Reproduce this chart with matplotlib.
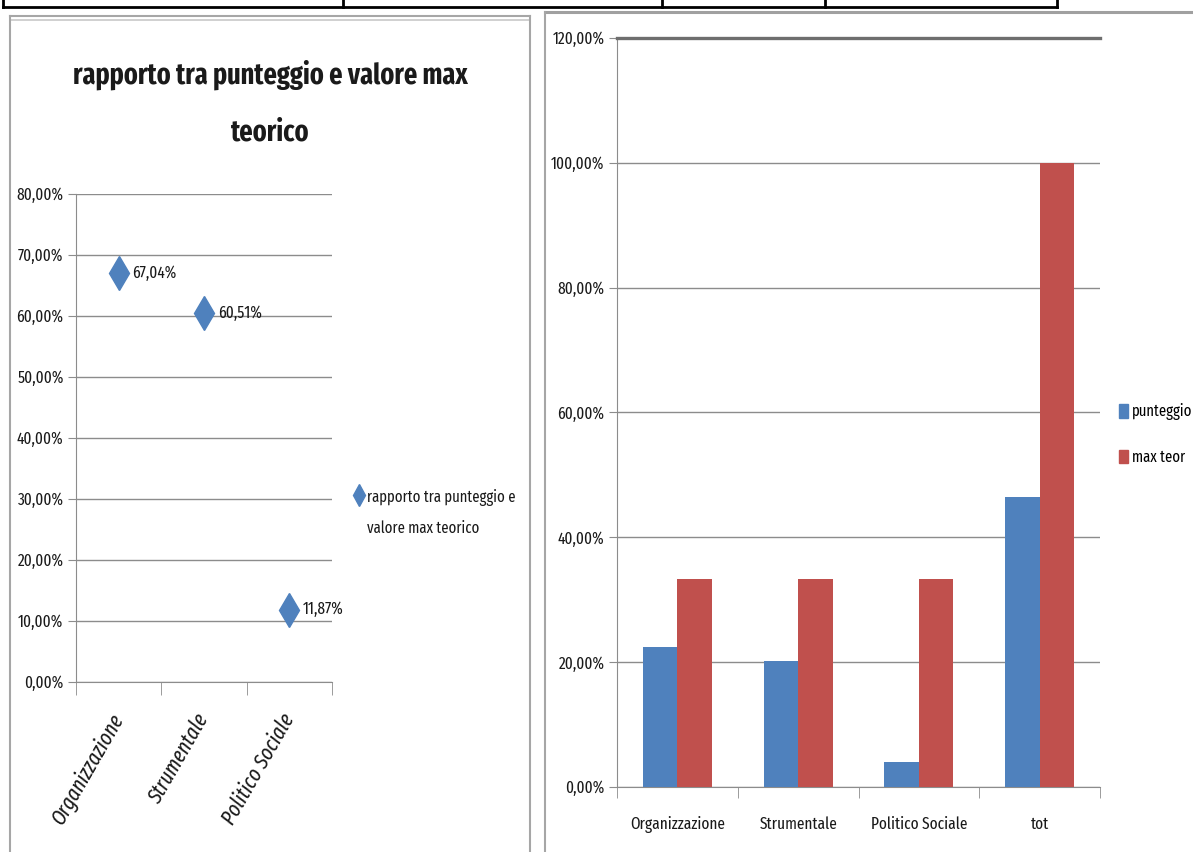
import matplotlib
matplotlib.use("Agg")
import matplotlib.pyplot as plt
from matplotlib import font_manager
from matplotlib.lines import Line2D
from matplotlib.patches import Patch
from matplotlib.ticker import FuncFormatter, FixedLocator

# ---- data ----
ratio_categories = ["Organizzazione", "Strumentale", "Politico Sociale"]
ratio_values = [0.6704, 0.6051, 0.1187]
ratio_label = "rapporto tra punteggio e valore max teorico"

bar_categories = ["Organizzazione", "Strumentale", "Politico Sociale", "tot"]
punteggio = [0.2235, 0.2017, 0.0396, 0.4647]
max_teor = [0.3333, 0.3333, 0.3333, 1.0]
series_names = ["punteggio", "max teor"]

left_yticks = [0.0, 0.1, 0.2, 0.3, 0.4, 0.5, 0.6, 0.7, 0.8]
right_yticks = [0.0, 0.2, 0.4, 0.6, 0.8, 1.0, 1.2]

# ---- style ----
names = {f.name for f in font_manager.fontManager.ttflist}
FONT = "Liberation Sans"
for cand in ["Fira Sans Extra Condensed", "Barlow Condensed", "Archivo Narrow"]:
    if cand in names:
        FONT = cand
        break
plt.rcParams["font.family"] = [FONT, "DejaVu Sans"]

BLUE = "#4F81BD"
RED = "#C0504D"
GRID = "#8c8c8c"
TXT = "#1a1a1a"
FS = 12

W, H = 1193, 852
fig = plt.figure(figsize=(W / 100, H / 100), dpi=100)


def box(x0, y0, x1, y1):
    return [x0 / W, 1 - y1 / H, (x1 - x0) / W, (y1 - y0) / H]


def pct(v, _pos=None):
    return f"{v * 100:.2f}%".replace(".", ",")


# background layer in pixel coordinates for frames and table rules
bg = fig.add_axes([0, 0, 1, 1])
bg.set_xlim(0, W)
bg.set_ylim(H, 0)
bg.axis("off")
bg.plot([3, 1057], [7, 7], color="black", lw=2)
for xv in [3, 343, 662, 825, 1057]:
    bg.plot([xv, xv], [0, 7], color="black", lw=2)
bg.plot([10, 530], [16, 16], color="#a6a6a6", lw=1.5)
bg.plot([10, 530], [20, 20], color="#c8c8c8", lw=1.2)
bg.plot([10, 10], [16, H], color="#a6a6a6", lw=1.5)
bg.plot([530, 530], [16, H], color="#a6a6a6", lw=1.5)
bg.plot([545, W], [12, 12], color="#a0a0a0", lw=2.2)
bg.plot([545, 545], [12, H], color="#a6a6a6", lw=1.5)

# ---- left chart: ratio scatter ----
ax1 = fig.add_axes(box(76, 194, 332, 682))
x_pos = [i + 0.5 for i in range(len(ratio_categories))]
ax1.plot(x_pos, ratio_values, linestyle="none", marker="d", markersize=17,
         color=BLUE, markeredgecolor=BLUE, zorder=3, clip_on=False)
for xp, v in zip(x_pos, ratio_values):
    ax1.annotate(pct(v), (xp, v), xytext=(10, 0), textcoords="offset points",
                 va="center", ha="left", fontsize=FS, color=TXT)
ax1.set_xlim(0, len(ratio_categories))
ax1.set_ylim(0, 0.8)
ax1.set_yticks(left_yticks)
ax1.yaxis.set_major_formatter(FuncFormatter(pct))
ax1.set_xticks(x_pos)
ax1.set_xticklabels(ratio_categories, rotation=60, ha="right", va="center",
                    rotation_mode="anchor", style="italic", fontsize=15.5, color=TXT)
ax1.xaxis.set_minor_locator(FixedLocator(range(len(ratio_categories) + 1)))
ax1.tick_params(axis="x", which="major", length=0, pad=24)
ax1.tick_params(axis="x", which="minor", length=9, color=GRID, direction="out")
ax1.tick_params(axis="y", length=6, color=GRID, labelsize=FS, labelcolor=TXT, pad=3)
ax1.grid(axis="y", color=GRID, lw=1)
ax1.set_axisbelow(True)
for s in ["top", "right"]:
    ax1.spines[s].set_visible(False)
for s in ["left", "bottom"]:
    ax1.spines[s].set_color(GRID)

fig.text(270 / W, 1 - 75 / H, "rapporto tra punteggio e valore max",
         ha="center", va="center", fontsize=20.5, fontweight="bold", color=TXT)
fig.text(270 / W, 1 - 133 / H, "teorico",
         ha="center", va="center", fontsize=20.5, fontweight="bold", color=TXT)

# legend of the left chart
fig.add_artist(Line2D([359 / W], [1 - 495 / H], marker="d", markersize=11,
                      color=BLUE, linestyle="none"))
words = ratio_label.split(" ")
fig.text(367 / W, 1 - 497 / H, " ".join(words[:4]), ha="left", va="center",
         fontsize=11.5, color=TXT)
fig.text(367 / W, 1 - 528 / H, " ".join(words[4:]), ha="left", va="center",
         fontsize=11.5, color=TXT)

# ---- right chart: grouped bars ----
ax2 = fig.add_axes(box(617, 38, 1100, 787))
n = len(bar_categories)
bw = 0.285
centers = [i + 0.5 for i in range(n)]
ax2.bar([c - bw / 2 for c in centers], punteggio, width=bw, color=BLUE, zorder=3)
ax2.bar([c + bw / 2 for c in centers], max_teor, width=bw, color=RED, zorder=3)
ax2.set_xlim(0, n)
ax2.set_ylim(0, 1.2)
ax2.set_yticks(right_yticks)
ax2.yaxis.set_major_formatter(FuncFormatter(pct))
ax2.set_xticks(centers)
ax2.set_xticklabels(bar_categories, fontsize=FS, color=TXT)
ax2.xaxis.set_minor_locator(FixedLocator(range(n + 1)))
ax2.tick_params(axis="x", which="major", length=0, pad=21)
ax2.tick_params(axis="x", which="minor", length=8, color=GRID, direction="out")
ax2.tick_params(axis="y", length=6, color=GRID, labelsize=FS, labelcolor=TXT, pad=3)
ax2.grid(axis="y", color=GRID, lw=1)
ax2.set_axisbelow(True)
ax2.spines["right"].set_visible(False)
ax2.spines["top"].set_color("#6e6e6e")
ax2.spines["top"].set_linewidth(2.4)
for s in ["left", "bottom"]:
    ax2.spines[s].set_color(GRID)

handles = [Patch(color=BLUE), Patch(color=RED)]
fig.legend(handles, series_names, loc="upper left",
           bbox_to_anchor=(1113 / W, 1 - 397 / H), frameon=False,
           handlelength=0.55, handleheight=0.9, handletextpad=0.25,
           labelspacing=1.8, fontsize=11.5, borderaxespad=0)

fig.savefig("out.png", dpi=100)
